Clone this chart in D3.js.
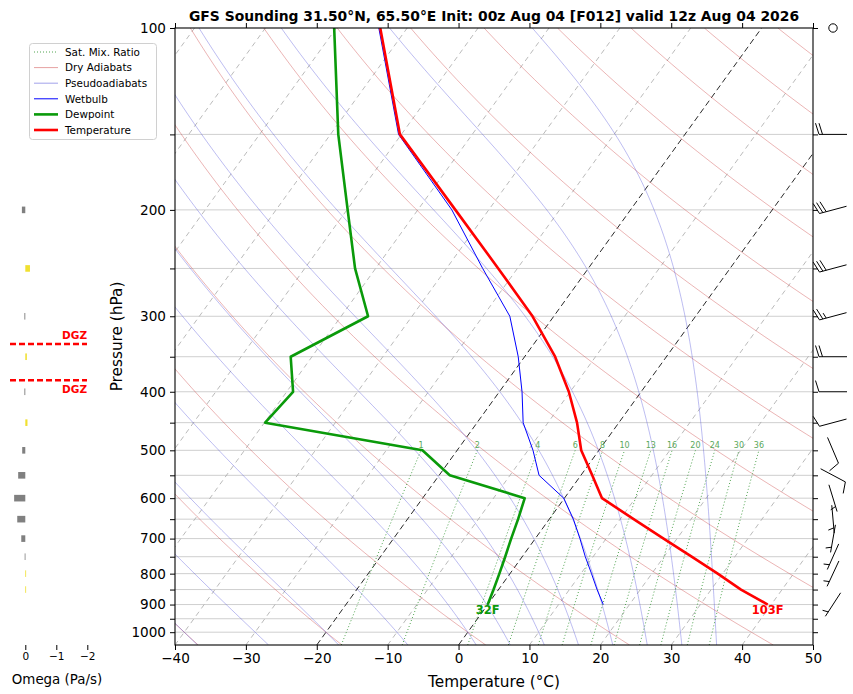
<!DOCTYPE html>
<html><head><meta charset="utf-8">
<script src="https://cdn.jsdelivr.net/npm/d3@7"></script>
<style>body{margin:0;background:#fff;} svg{display:block;font-family:"DejaVu Sans",sans-serif;}</style>
</head><body><svg id="c" width="853" height="694"></svg>
<script>
// ---------------- data ----------------
const levels   = [900, 850, 800, 750, 700, 650, 600, 550, 500, 450, 400, 350, 300, 250, 200, 150, 100];
const tempC    = [39.5, 34.2, 29.3, 23.9, 18.1, 11.9, 5.3, 1.6, -2.5, -5.9, -10.2, -15.7, -23.0, -32.7, -44.7, -60.2, -73.8];
const dewpC    = [0.0, -0.7, -1.5, -2.4, -3.4, -4.4, -5.6, -18.5, -24.9, -49.9, -49.1, -53.0, -46.2, -52.9, -59.9, -68.9, -80.3];
const wetbulbC = [16.3, 13.9, 11.5, 8.9, 6.3, 3.4, -0.1, -5.9, -9.3, -13.5, -16.8, -20.9, -26.2, -34.9, -45.2, -60.4, -74.0];

const windLevels = [100, 150, 200, 250, 300, 350, 400, 450, 500, 550, 600, 650, 700, 750, 800, 900];
const windDir    = [0, 270, 255, 255, 255, 270, 270, 255, 157, 118, 163, 175, 190, 204, 205, 213];
const windKt     = [0, 20, 30, 30, 25, 20, 10, 10, 10, 10, 5, 5, 5, 5, 5, 5];

const omegaLevels = [200, 250, 300, 350, 400, 450, 500, 550, 600, 650, 700, 750, 800, 850];
const omegaPaS    = [0.11, -0.15, 0.03, -0.05, 0.03, -0.07, 0.10, 0.23, 0.36, 0.26, 0.13, 0.02, -0.01, -0.01];

const mixRatios = [1, 2, 4, 6, 8, 10, 13, 16, 20, 24, 30, 36];
const moistT0   = [-40, -30, -20, -10, 0, 5, 10, 15, 20, 25, 30, 35];
const dryTheta  = [-40, -20, 0, 20, 40, 60, 80, 100, 120, 140, 160, 180, 200, 220, 240];
const tempTicks = [-40, -30, -20, -10, 0, 10, 20, 30, 40, 50];
const presTicks = [100, 200, 300, 400, 500, 600, 700, 800, 900, 1000];
const presMinor = [150, 250, 350, 450, 550, 650, 750, 850, 950];
const gridLevels = [150, 200, 250, 300, 350, 400, 450, 500, 550, 600, 650, 700, 750, 800, 850, 900, 950, 1000];
const omegaTicks = [0, -1, -2];
const titleText = "GFS Sounding 31.50°N, 65.50°E Init: 00z Aug 04 [F012] valid 12z Aug 04 2026";

// ---------------- layout ----------------
const L = 175, R = 813, TOP = 28, BOT = 645, SKEW = 0.721;
const svg = d3.select("#c");
const x = d3.scaleLinear().domain([-40, 50]).range([L, R]);
const y = d3.scaleLog().domain([1050, 100]).range([BOT, TOP]);
const sx = (t, p) => x(t) + (BOT - y(p)) * SKEW;
const line = d3.line().x(d => sx(d[0], d[1])).y(d => y(d[1]));

svg.append("defs").append("clipPath").attr("id", "clip")
  .append("rect").attr("x", L).attr("y", TOP).attr("width", R - L).attr("height", BOT - TOP);
const plot = svg.append("g").attr("clip-path", "url(#clip)");

const pgrid = d3.range(0, 121).map(i => 1050 * Math.pow(100 / 1050, i / 120));

// grid lines
plot.append("g").selectAll("line").data(gridLevels).join("line")
  .attr("x1", L).attr("x2", R).attr("y1", d => y(d)).attr("y2", d => y(d))
  .attr("stroke", "#cfcfcf").attr("stroke-width", 1);

// isotherms
const isoT = d3.range(-160, 51, 10);
plot.append("g").selectAll("path").data(isoT).join("path")
  .attr("d", t => line([[t, 1050], [t, 100]]))
  .attr("fill", "none")
  .attr("stroke", t => (t === 0 || t === -20) ? "#111" : "#a8a8a8")
  .attr("stroke-width", t => (t === 0 || t === -20) ? 0.9 : 0.8)
  .attr("stroke-dasharray", t => (t === 0 || t === -20) ? "6,3.5" : "5,4");

// dry adiabats
plot.append("g").selectAll("path").data(dryTheta).join("path")
  .attr("d", th => line(pgrid.map(p => [(th + 273.15) * Math.pow(p / 1000, 0.2857) - 273.15, p])))
  .attr("fill", "none").attr("stroke", "rgba(205,70,70,0.5)").attr("stroke-width", 0.8);

// moist adiabats
function dTdp(p, T) {
  const Rd = 287.04749, Cp = 1004.6662, Lv = 2.501e6, eps = 0.622;
  const Tc = T - 273.15;
  const es = 6.112 * Math.exp(17.67 * Tc / (Tc + 243.5));
  const rs = eps * es / (p - es);
  return (1 / p) * (Rd * T + Lv * rs) / (Cp + Lv * Lv * rs * eps / (Rd * T * T));
}
function integrate(T0, pts) {
  const out = [[T0, pts[0]]];
  let T = T0;
  for (let i = 1; i < pts.length; i++) {
    const p0 = pts[i - 1], h = pts[i] - p0;
    const k1 = dTdp(p0, T), k2 = dTdp(p0 + h / 2, T + h * k1 / 2),
          k3 = dTdp(p0 + h / 2, T + h * k2 / 2), k4 = dTdp(p0 + h, T + h * k3);
    T += h * (k1 + 2 * k2 + 2 * k3 + k4) / 6;
    out.push([T, pts[i]]);
  }
  return out;
}
const pUp = d3.range(0, 161).map(i => 1000 * Math.pow(0.1, i / 160));
const pDn = d3.range(0, 6).map(i => 1000 + i * 10);
plot.append("g").selectAll("path").data(moistT0).join("path")
  .attr("d", t0 => {
    const up = integrate(t0 + 273.15, pUp), dn = integrate(t0 + 273.15, pDn);
    const pts = dn.reverse().concat(up.slice(1)).map(d => [d[0] - 273.15, d[1]]);
    return line(pts);
  })
  .attr("fill", "none").attr("stroke", "rgba(70,70,215,0.45)").attr("stroke-width", 0.8);

// mixing ratio lines
const tdFromW = (w, p) => { const e = p * (w / 1000) / (0.622 + w / 1000); const l = Math.log(e / 6.112); return 243.5 * l / (17.67 - l); };
const pMix = d3.range(0, 21).map(i => 1050 * Math.pow(500 / 1050, i / 20));
plot.append("g").selectAll("path").data(mixRatios).join("path")
  .attr("d", w => line(pMix.map(p => [tdFromW(w, p), p])))
  .attr("fill", "none").attr("stroke", "#3d9a3d").attr("stroke-width", 0.9).attr("stroke-dasharray", "1,2.2");
plot.append("g").selectAll("text").data(mixRatios).join("text")
  .attr("x", w => sx(tdFromW(w, 500), 500)).attr("y", y(500) - 2)
  .attr("text-anchor", "middle").attr("font-size", 8).attr("fill", "#5aa85a").text(w => w);

// profiles
const prof = arr => levels.map((p, i) => [arr[i], p]);
plot.append("path").attr("d", line(prof(wetbulbC))).attr("fill", "none").attr("stroke", "#0000ff").attr("stroke-width", 1);
plot.append("path").attr("d", line(prof(dewpC))).attr("fill", "none").attr("stroke", "#0a9a0a").attr("stroke-width", 2.6).attr("stroke-linejoin", "round");
plot.append("path").attr("d", line(prof(tempC))).attr("fill", "none").attr("stroke", "#ff0000").attr("stroke-width", 2.6).attr("stroke-linejoin", "round");

// surface labels
const cToF = c => Math.round(c * 9 / 5 + 32);
svg.append("text").attr("x", sx(dewpC[0], levels[0])).attr("y", y(levels[0]) + 9.5)
  .attr("text-anchor", "middle").attr("font-size", 11.5).attr("font-weight", "bold").attr("fill", "#0a9a0a").text(cToF(dewpC[0]) + "F");
svg.append("text").attr("x", sx(tempC[0], levels[0])).attr("y", y(levels[0]) + 9.5)
  .attr("text-anchor", "middle").attr("font-size", 11.5).attr("font-weight", "bold").attr("fill", "#ff0000").text(cToF(tempC[0]) + "F");

// frame
svg.append("rect").attr("x", L).attr("y", TOP).attr("width", R - L).attr("height", BOT - TOP)
  .attr("fill", "none").attr("stroke", "#000").attr("stroke-width", 1.1);

// axes
const xAxis = d3.axisBottom(x).tickValues(tempTicks).tickSize(5).tickPadding(3);
const gx = svg.append("g").attr("transform", `translate(0,${BOT})`).call(xAxis);
gx.select(".domain").remove();
gx.selectAll("text").attr("font-size", 13.6).attr("font-family", "DejaVu Sans");
const gxt = svg.append("g").attr("transform", `translate(0,${TOP})`).call(d3.axisTop(x).tickValues(tempTicks).tickSize(5).tickFormat(""));
gxt.select(".domain").remove();

const yAxis = d3.axisLeft(y).tickValues(presTicks.concat(presMinor))
  .tickFormat(d => presTicks.includes(d) ? d : "").tickSize(5).tickPadding(4);
const gy = svg.append("g").attr("transform", `translate(${L},0)`).call(yAxis);
gy.select(".domain").remove();
gy.selectAll("text").attr("font-size", 13.6).attr("font-family", "DejaVu Sans");
const gyr = svg.append("g").attr("transform", `translate(${R},0)`).call(d3.axisRight(y).tickValues(presTicks.concat(presMinor)).tickSize(5).tickFormat(""));
gyr.select(".domain").remove();

// labels & title
svg.append("text").attr("x", (L + R) / 2).attr("y", 21).attr("text-anchor", "middle")
  .attr("font-size", 13.9).attr("font-weight", "bold").text(titleText);
svg.append("text").attr("x", (L + R) / 2).attr("y", 687).attr("text-anchor", "middle").attr("font-size", 15.3).text("Temperature (°C)");
svg.append("text").attr("transform", `translate(122,${(TOP + BOT) / 2}) rotate(-90)`).attr("text-anchor", "middle").attr("font-size", 15.3).text("Pressure (hPa)");

// ---------------- omega panel ----------------
const xo = d3.scaleLinear().domain([0.5, -2.0]).range([9.8, 87.3]);
svg.append("g").selectAll("rect").data(omegaLevels).join("rect")
  .attr("x", (p, i) => Math.min(xo(0), xo(omegaPaS[i])))
  .attr("width", (p, i) => Math.max(0.8, Math.abs(xo(omegaPaS[i]) - xo(0))))
  .attr("y", p => y(p) - 3.3).attr("height", 6.6)
  .attr("fill", (p, i) => omegaPaS[i] >= 0 ? "#808080" : "#f0e030");
const go = svg.append("g").attr("transform", `translate(0,${BOT})`)
  .call(d3.axisBottom(xo).tickValues(omegaTicks).tickFormat(d3.format("d")).tickSize(5).tickPadding(3));
go.select(".domain").remove();
go.selectAll("text").attr("font-size", 10.5).attr("font-family", "DejaVu Sans");
svg.append("text").attr("x", 57).attr("y", 684).attr("text-anchor", "middle").attr("font-size", 13.4).text("Omega (Pa/s)");

// DGZ (-12 to -18 C)
function pAtT(target) {
  for (let i = 0; i < levels.length - 1; i++) {
    const a = tempC[i], b = tempC[i + 1];
    if ((a - target) * (b - target) <= 0) {
      const f = (target - a) / (b - a);
      return Math.exp(Math.log(levels[i]) + f * (Math.log(levels[i + 1]) - Math.log(levels[i])));
    }
  }
}
const dgz = [{t: -18, dy: -5}, {t: -12, dy: 13}];
dgz.forEach(d => {
  const yy = y(pAtT(d.t));
  svg.append("line").attr("x1", 10).attr("x2", 87).attr("y1", yy).attr("y2", yy)
    .attr("stroke", "#ff0000").attr("stroke-width", 2.5).attr("stroke-dasharray", "6,3");
  svg.append("text").attr("x", 87).attr("y", yy + d.dy).attr("text-anchor", "end")
    .attr("font-size", 10.5).attr("font-weight", "bold").attr("fill", "#ff0000").text("DGZ");
});

// ---------------- wind barbs ----------------
const BX = 833, BL = 28;
const gb = svg.append("g").attr("stroke", "#000").attr("stroke-width", 1).attr("fill", "none");
windLevels.forEach((p, i) => {
  const cy = y(p), spd = windKt[i];
  if (spd < 2.5) { gb.append("circle").attr("cx", BX).attr("cy", cy).attr("r", 0.15 * BL); return; }
  const b = windDir[i] * Math.PI / 180;
  const d = [Math.sin(b), -Math.cos(b)], n = [Math.cos(b), Math.sin(b)];
  const E = [BX + d[0] * BL / 2, cy + d[1] * BL / 2], S = [BX - d[0] * BL / 2, cy - d[1] * BL / 2];
  let path = `M${S[0]},${S[1]}L${E[0]},${E[1]}`;
  const Hh = 0.4 * BL, Ww = 0.25 * BL, sp = 0.125 * BL;
  let r = Math.round(spd / 5) * 5, full = Math.floor(r / 10), half = (r % 10) >= 5;
  let off = 0;
  for (let k = 0; k < full; k++) {
    const B = [E[0] - d[0] * off, E[1] - d[1] * off];
    path += `M${B[0]},${B[1]}L${B[0] + n[0] * Hh + d[0] * Ww / 2},${B[1] + n[1] * Hh + d[1] * Ww / 2}`;
    off += sp;
  }
  if (half) {
    if (off === 0) off += 1.5 * sp;
    const B = [E[0] - d[0] * off, E[1] - d[1] * off];
    path += `M${B[0]},${B[1]}L${B[0] + n[0] * Hh / 2 + d[0] * Ww / 4},${B[1] + n[1] * Hh / 2 + d[1] * Ww / 4}`;
  }
  gb.append("path").attr("d", path);
});

// ---------------- legend ----------------
const legendItems = [
  {name: "Sat. Mix. Ratio", color: "#3d9a3d", w: 0.9, dash: "1,2"},
  {name: "Dry Adiabats", color: "rgba(205,70,70,0.5)", w: 1, dash: null},
  {name: "Pseudoadiabats", color: "rgba(70,70,215,0.5)", w: 1, dash: null},
  {name: "Wetbulb", color: "#0000ff", w: 1, dash: null},
  {name: "Dewpoint", color: "#0a9a0a", w: 2.6, dash: null},
  {name: "Temperature", color: "#ff0000", w: 2.6, dash: null}
];
const lg = svg.append("g");
lg.append("rect").attr("x", 29.5).attr("y", 43.5).attr("width", 127).attr("height", 96).attr("rx", 3)
  .attr("fill", "#fff").attr("fill-opacity", 0.85).attr("stroke", "#d0d0d0");
legendItems.forEach((it, i) => {
  const yy = 52 + i * 15.6;
  lg.append("line").attr("x1", 34).attr("x2", 58).attr("y1", yy).attr("y2", yy)
    .attr("stroke", it.color).attr("stroke-width", it.w).attr("stroke-dasharray", it.dash);
  lg.append("text").attr("x", 65).attr("y", yy + 3.8).attr("font-size", 10.4).text(it.name);
});
</script>
</body></html>
